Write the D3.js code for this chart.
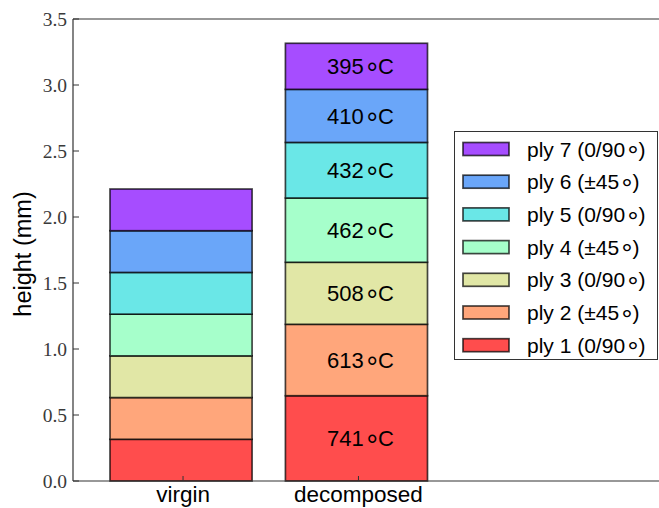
<!DOCTYPE html>
<html>
<head>
<meta charset="utf-8">
<script src="https://cdn.jsdelivr.net/npm/d3@7"></script>
<style>
body { margin: 0; background: #fff; }
.tick-lbl { font-family: "Liberation Serif", serif; font-size: 19.5px; fill: #3a3a3a; }
.sans { font-family: "Liberation Sans", Arial, sans-serif; fill: #000; }
</style>
</head>
<body>
<svg width="659" height="508"></svg>
<script>
// data
var categories = ["virgin", "decomposed"]
var plyNames = ["ply 1", "ply 2", "ply 3", "ply 4", "ply 5", "ply 6", "ply 7"]
var plyAngles = ["0/90", "\u00b145", "0/90", "\u00b145", "0/90", "\u00b145", "0/90"]
var virginHeights = [0.316, 0.316, 0.316, 0.316, 0.316, 0.316, 0.316]
var decomposedHeights = [0.646, 0.541, 0.470, 0.487, 0.421, 0.402, 0.349]
var decomposedTemps = [741, 613, 508, 462, 432, 410, 395]
var yTicks = [0, 0.5, 1.0, 1.5, 2.0, 2.5, 3.0, 3.5]

// rainbow colormap, alpha .7 on white (ply 1 red -> ply 7 purple)
var plyColors = ["#ff4d4d", "#ffa67b", "#e1e7a6", "#a6ffcb", "#6ae7e7", "#6aa6f9", "#a64dff"]

var svg = d3.select("svg")
var axL = 73, axT = 19, axB = 481, axR = 700

var y = d3.scaleLinear().domain([0, 3.5]).range([axB, axT])
var x = d3.scaleBand().domain(categories).range([110, 427.5]).paddingInner(0.19).paddingOuter(0)

var series = [virginHeights, decomposedHeights]

function stack(h) {
	var acc = 0
	return h.map(function(v, i) { var s = { y0: acc, y1: acc + v, i: i }; acc += v; return s })
}

// "xx∘yy": degree ring pulled down to mid height like the tex \circ
function degText(t, before, after, fs) {
	var rs = fs * 1.3, drop = fs * 0.41
	t.append("tspan").text(before)
	t.append("tspan").style("font-size", rs + "px").attr("dx", fs * 0.12).attr("dy", drop).text("\u00b0")
	t.append("tspan").attr("dy", -drop).text(after)
}

var bars = svg.append("g")
series.forEach(function(h, ci) {
	var cat = categories[ci]
	var g = bars.append("g")
	g.selectAll("rect").data(stack(h)).enter().append("rect")
		.attr("x", x(cat))
		.attr("width", x.bandwidth())
		.attr("y", d => y(d.y1))
		.attr("height", d => y(d.y0) - y(d.y1))
		.style("fill", d => plyColors[d.i])
		.style("stroke", "#000").style("stroke-opacity", 0.72).style("stroke-width", 1.7)
})

// temperature labels on decomposed bar
var dstack = stack(decomposedHeights)
var lab = bars.append("g").attr("class", "sans").style("font-size", "22px")
lab.selectAll("text").data(dstack).enter().append("text")
	.attr("x", x("decomposed") + x.bandwidth() / 2 + 4)
	.attr("y", d => y((d.y0 + d.y1) / 2))
	.attr("dy", "0.36em")
	.attr("text-anchor", "middle")
	.each(function(d) { degText(d3.select(this), decomposedTemps[d.i], "C", 22) })

// spines
var ax = svg.append("g").style("stroke", "#333").style("stroke-width", 1.2).style("fill", "none")
ax.append("line").attr("x1", axL).attr("x2", axL).attr("y1", axT).attr("y2", axB)
ax.append("line").attr("x1", axL).attr("x2", axR).attr("y1", axT).attr("y2", axT)
ax.append("line").attr("x1", axL).attr("x2", axR).attr("y1", axB).attr("y2", axB)

// y ticks (inward)
var yt = svg.append("g")
yTicks.forEach(function(t) {
	yt.append("line").attr("x1", axL).attr("x2", axL + 6).attr("y1", y(t)).attr("y2", y(t))
		.style("stroke", "#333").style("stroke-width", 1)
	yt.append("text").attr("class", "tick-lbl")
		.attr("x", axL - 6).attr("y", y(t)).attr("dy", "0.38em")
		.attr("text-anchor", "end").text(d3.format(".1f")(t))
})

// x ticks
var xt = svg.append("g")
categories.forEach(function(c) {
	var cx = x(c) + x.bandwidth() / 2 + 2
	xt.append("line").attr("x1", cx).attr("x2", cx).attr("y1", axB).attr("y2", axB - 5)
		.style("stroke", "#333").style("stroke-width", 1)
	xt.append("text").attr("class", "sans").style("font-size", "22.5px")
		.attr("x", cx).attr("y", 502).attr("text-anchor", "middle").text(c)
})

// y label
svg.append("text").attr("class", "sans").style("font-size", "23.5px")
	.attr("transform", "translate(31," + y(1.72) + ") rotate(-90)")
	.attr("text-anchor", "middle").text("height (mm)")

// legend
var lg = svg.append("g")
lg.append("rect").attr("x", 454.5).attr("y", 131.5).attr("width", 203).attr("height", 228)
	.style("fill", "#fff").style("stroke", "#333").style("stroke-width", 1)
var order = d3.range(plyNames.length).reverse()
order.forEach(function(pi, k) {
	var cy = 149 + k * 32.7
	lg.append("rect").attr("x", 463).attr("y", cy - 6.5).attr("width", 46).attr("height", 13)
		.style("fill", plyColors[pi]).style("stroke", "#000").style("stroke-opacity", 0.72).style("stroke-width", 1.7)
	var t = lg.append("text").attr("class", "sans").style("font-size", "21px")
		.attr("x", 527).attr("y", cy).attr("dy", "0.36em")
	degText(t, plyNames[pi] + " (" + plyAngles[pi], ")", 21)
})
</script>
</body>
</html>
